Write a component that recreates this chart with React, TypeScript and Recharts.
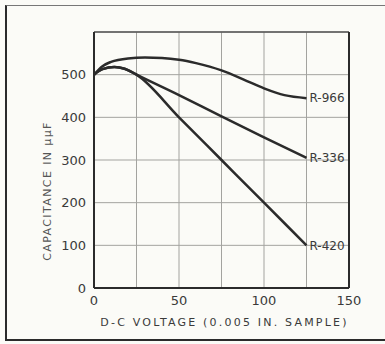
// Capacitance vs. D-C voltage for three samples, drawn as an old-style
// technical plot: cream paper, grey grid every 25 V / 100 µµF, dark curves
// with their sample names written at the curve ends.

import {
  CartesianGrid,
  Label,
  Line,
  LineChart,
  ReferenceLine,
  XAxis,
  YAxis,
} from "recharts";

const xTicks = [0, 25, 50, 75, 100, 125, 150];
const yTicks = [0, 100, 200, 300, 400, 500, 600];

const r966Voltage = [0, 5, 10, 20, 30, 40, 50, 60, 75, 90, 100, 112, 125];
const r966Capacitance = [500, 520, 530, 538, 540, 539, 535, 527, 510, 485, 468, 452, 445];

const r336Voltage = [0, 5, 12, 18, 25, 50, 75, 100, 125];
const r336Capacitance = [500, 513, 518, 514, 500, 452, 402, 353, 305];

const r420Voltage = [0, 5, 12, 18, 25, 50, 75, 100, 125];
const r420Capacitance = [500, 513, 518, 514, 500, 400, 300, 200, 100];

const seriesNames = ["R-966", "R-336", "R-420"];

const toRows = (xs: number[], ys: number[]) =>
  xs.map((v, i) => ({ voltage: v, capacitance: ys[i] }));

const series = [
  toRows(r966Voltage, r966Capacitance),
  toRows(r336Voltage, r336Capacitance),
  toRows(r420Voltage, r420Capacitance),
];

const INK = "#2b2b2b";
const TEXT = "#3a3a3a";
const GRID = "#a3a39f";
const PAPER = "#fbfbf7";
const FONT = "'DejaVu Sans', sans-serif";

function EndLabel(name: string, lastIndex: number) {
  return (props: any) => {
    if (props.index !== lastIndex) return null;
    return (
      <text
        x={props.x + 3}
        y={props.y}
        dy="0.35em"
        fontFamily={FONT}
        fontSize={12}
        fill={TEXT}
      >
        {name}
      </text>
    );
  };
}

export default function App() {
  return (
    <div
      style={{
        position: "fixed",
        left: 0,
        top: 0,
        width: 385,
        height: 344,
        background: PAPER,
        overflow: "hidden",
      }}
    >
      <div
        style={{
          position: "absolute",
          left: 5,
          top: 5,
          width: 400,
          height: 333,
          borderLeft: `2px solid ${INK}`,
          borderTop: "1px solid #777",
          borderBottom: `2px solid ${INK}`,
        }}
      />
      <LineChart
        width={385}
        height={344}
        margin={{ top: 32, right: 36, left: 54, bottom: 26 }}
        style={{ position: "absolute", left: 0, top: 0 }}
      >
        <CartesianGrid stroke={GRID} strokeWidth={1} />
        <XAxis
          type="number"
          dataKey="voltage"
          domain={[0, 150]}
          ticks={xTicks}
          tickFormatter={(v) => (v % 50 === 0 ? String(v) : "")}
          tickLine={false}
          axisLine={{ stroke: INK, strokeWidth: 2 }}
          height={30}
          tick={{ fill: TEXT, fontSize: 13, fontFamily: FONT }}
          allowDuplicatedCategory={false}
        >
          <Label
            content={({ viewBox }: any) => (
              <text
                x={viewBox.x + viewBox.width / 2 + 3}
                y={viewBox.y + 38}
                textAnchor="middle"
                fontFamily={FONT}
                fontSize={11}
                letterSpacing={2.2}
                fill={TEXT}
              >
                D-C  VOLTAGE  (0.005 IN. SAMPLE)
              </text>
            )}
          />
        </XAxis>
        <YAxis
          type="number"
          domain={[0, 600]}
          ticks={yTicks}
          tickFormatter={(v) => (v === 600 ? "" : String(v))}
          tickLine={false}
          axisLine={{ stroke: INK, strokeWidth: 2 }}
          width={40}
          tick={{ fill: TEXT, fontSize: 13, fontFamily: FONT }}
        >
          <Label
            content={({ viewBox }: any) => {
              const cx = viewBox.x - 7;
              const cy = viewBox.y + viewBox.height / 2 + 31;
              return (
                <text
                  x={cx}
                  y={cy}
                  transform={`rotate(-90 ${cx} ${cy})`}
                  textAnchor="middle"
                  dominantBaseline="central"
                  fontFamily={FONT}
                  fontSize={11}
                  letterSpacing={1.4}
                  fill="#555"
                >
                  CAPACITANCE IN μμF
                </text>
              );
            }}
          />
        </YAxis>
        <ReferenceLine y={600} stroke="#555" strokeWidth={1.5} />
        <ReferenceLine x={150} stroke={INK} strokeWidth={2} />
        {series.map((rows, i) => (
          <Line
            key={seriesNames[i]}
            data={rows}
            dataKey="capacitance"
            type="monotone"
            stroke={INK}
            strokeWidth={2.5}
            dot={false}
            activeDot={false}
            isAnimationActive={false}
            label={EndLabel(seriesNames[i], rows.length - 1)}
          />
        ))}
      </LineChart>
    </div>
  );
}
